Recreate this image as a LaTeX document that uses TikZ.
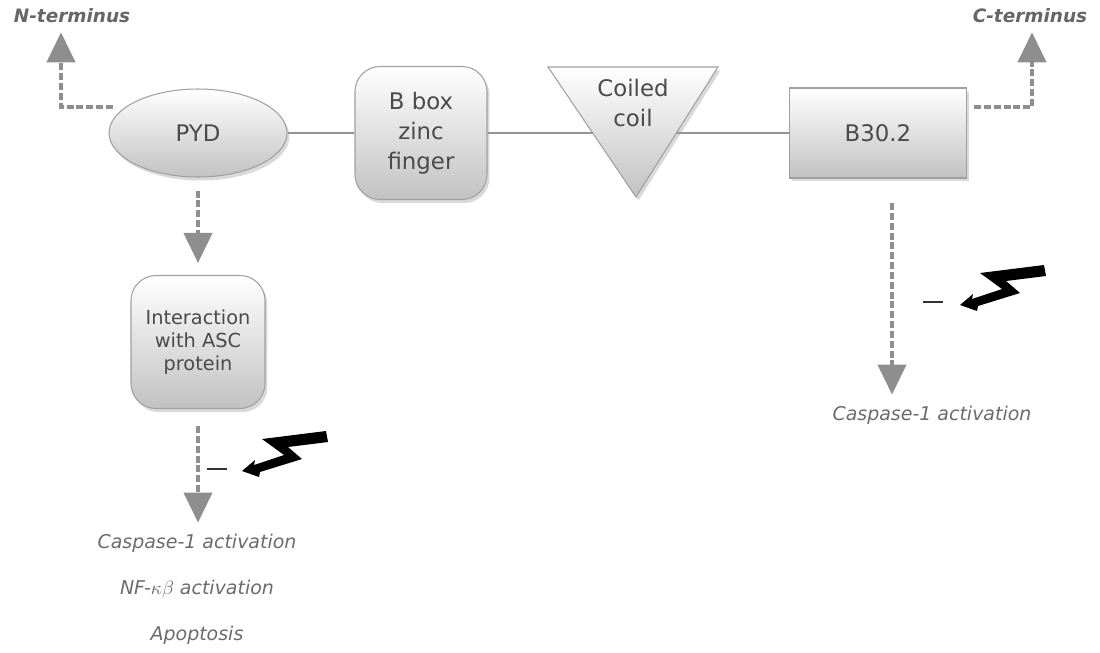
\documentclass[tikz,border=0pt]{standalone}
\usepackage{fontspec}
\setmainfont{DejaVu Sans}
\usepackage{tikz}
\usetikzlibrary{positioning,arrows.meta,shapes.geometric,shadows}
\definecolor{domtxt}{HTML}{4A4A4A}
\definecolor{lbltxt}{HTML}{6B6B6B}
\definecolor{dashgr}{HTML}{8E8E8E}
\definecolor{edgegr}{HTML}{A0A0A0}

\begin{document}
\begin{tikzpicture}[x=0.02cm,y=-0.02cm,
    dombox/.style={draw=edgegr,line width=0.6pt,top color=white,bottom color=black!24,text=domtxt,align=center,
        drop shadow={shadow xshift=0.05cm,shadow yshift=-0.07cm,opacity=0.3},font=\fontsize{13}{17}\selectfont},
    link/.style={draw=black!42,line width=1.1pt},
    dasharr/.style={draw=dashgr,line width=2.3pt,dash pattern=on 4pt off 1.6pt,
        -{Triangle[length=0.6cm,width=0.56cm,fill=dashgr]}},
    lbl/.style={text=lbltxt,font=\fontsize{10.8}{13}\selectfont\itshape},
    termlbl/.style={text=black!60,font=\fontsize{10.5}{13}\selectfont\bfseries\itshape},
    minus/.style={draw=black!80,line width=1.2pt}]
    \useasboundingbox (0,0) rectangle (1100,653);

    % domains
    \node[dombox,ellipse,minimum width=3.56cm,minimum height=1.76cm] (pyd) at (198,133) {PYD};
    \node[dombox,rounded corners=0.5cm,minimum width=2.64cm,minimum height=2.66cm] (bbox) at (421,133) {B box\\zinc\\finger};
    \path[dombox] (548,67) -- (718,67) -- (636,197) -- cycle;
    \node[text=domtxt,align=center,font=\fontsize{13}{17}\selectfont] (cc) at (633,103) {Coiled\\coil};
    \coordinate (ccl) at (593,133);
    \coordinate (ccr) at (677,133);
    \node[dombox,minimum width=3.54cm,minimum height=1.8cm] (b302) at (878,133) {B30.2};
    \node[dombox,rounded corners=0.5cm,minimum width=2.68cm,minimum height=2.66cm,font=\fontsize{11}{13}\selectfont] (asc) at (198,342) {Interaction\\with ASC\\protein};

    \draw[link] (pyd) -- (bbox);
    \draw[link] (bbox) -- (ccl);
    \draw[link] (ccr) -- (b302);

    % termini
    \node[termlbl] (nterm) at (72,16) {N-terminus};
    \node[termlbl] (cterm) at (1030,16) {C-terminus};
    \coordinate (nstart) at (113,107);
    \coordinate (cstart) at (974,107);
    \draw[dasharr] (nstart) -| ([yshift=-0.06cm]nterm.south -| 61,0);
    \draw[dasharr] (cstart) -| ([yshift=-0.06cm]cterm.south -| 1032,0);

    % outputs
    \node[lbl] (casp1) at (197,543) {Caspase-1 activation};
    \node[lbl] (nfkb) at (197,589) {NF-$\kappa\beta$ activation};
    \node[lbl] (apop) at (197,635) {Apoptosis};
    \node[lbl] (casp2) at (932,415) {Caspase-1 activation};
    \coordinate (rtop) at (892,203);

    \draw[dasharr] ([yshift=-0.26cm]pyd.south) -- ([yshift=0.24cm]asc.north);
    \draw[dasharr] ([yshift=-0.34cm]asc.south) -- ([yshift=0.1cm]casp1.north -| asc.south);
    \draw[dasharr] (rtop) -- ([yshift=0.1cm]casp2.north -| rtop);

    \draw[minus] (207,469) -- (227,469);
    \draw[minus] (923,302) -- (943,302);
    \foreach \tip in {(242,471),(960,305)}
        \fill[black,shift={\tip}] (0,0) -- (13,-11) -- (12,-6) -- (42,-16) -- (20,-32) -- (84,-40)
            -- (86,-29) -- (46,-24) -- (60,-12) -- (18,1) -- (17,6) -- cycle;
\end{tikzpicture}
\end{document}
